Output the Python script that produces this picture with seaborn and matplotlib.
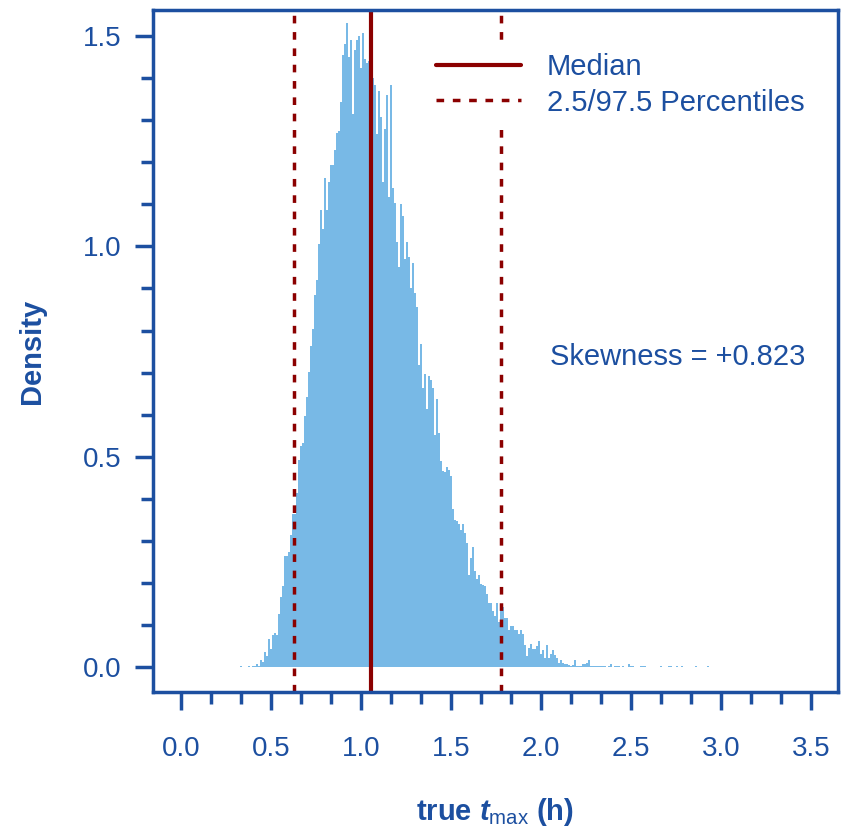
import numpy as np
import pandas as pd
import matplotlib
matplotlib.use("Agg")
import matplotlib.pyplot as plt
from matplotlib.ticker import MultipleLocator, FormatStrFormatter
import seaborn as sns

# histogram (density per bin)
bin_start = 0.33
bin_width = 0.01109
density = [
    0.003, 0.0, 0.0, 0.0, 0.003, 0.0, 0.003, 0.003, 0.007, 0.003,
    0.017, 0.012, 0.036, 0.026, 0.067, 0.043, 0.076, 0.081, 0.076, 0.126,
    0.166, 0.193, 0.264, 0.264, 0.273, 0.314, 0.364, 0.364, 0.414, 0.492,
    0.525, 0.532, 0.597, 0.642, 0.701, 0.763, 0.803, 0.884, 0.920, 1.005,
    1.086, 1.041, 1.162, 1.086, 1.153, 1.193, 1.193, 1.229, 1.269, 1.274,
    1.343, 1.455, 1.481, 1.531, 1.450, 1.490, 1.314, 1.467, 1.490, 1.500,
    1.424, 1.507, 1.445, 1.436, 1.440, 1.420, 1.400, 1.383, 1.267, 1.369,
    1.307, 1.153, 1.279, 1.360, 1.117, 1.383, 1.139, 1.103, 1.010, 0.951,
    1.100, 1.072, 0.970, 1.010, 0.975, 0.901, 0.960, 0.889, 0.856, 0.718,
    0.768, 0.663, 0.696, 0.613, 0.692, 0.682, 0.663, 0.551, 0.637, 0.556,
    0.490, 0.466, 0.464, 0.475, 0.468, 0.454, 0.376, 0.349, 0.347, 0.340,
    0.326, 0.340, 0.319, 0.295, 0.219, 0.259, 0.285, 0.228, 0.209, 0.219,
    0.197, 0.195, 0.193, 0.174, 0.152, 0.152, 0.133, 0.121, 0.152, 0.107,
    0.135, 0.143, 0.116, 0.116, 0.088, 0.097, 0.097, 0.088, 0.088, 0.078,
    0.088, 0.078, 0.052, 0.026, 0.045, 0.055, 0.043, 0.043, 0.050, 0.062,
    0.031, 0.040, 0.021, 0.052, 0.021, 0.031, 0.040, 0.029, 0.021, 0.010,
    0.017, 0.010, 0.007, 0.007, 0.005, 0.003, 0.005, 0.017, 0.003, 0.003,
    0.003, 0.007, 0.007, 0.010, 0.017, 0.003, 0.003, 0.003, 0.003, 0.003,
    0.003, 0.003, 0.003, 0.0, 0.003, 0.007, 0.0, 0.003, 0.003, 0.003,
    0.0, 0.003, 0.0, 0.0, 0.007, 0.003, 0.003, 0.0, 0.0, 0.0,
    0.003, 0.003, 0.003, 0.0, 0.0, 0.0, 0.0, 0.0, 0.0, 0.0,
    0.003, 0.0, 0.0, 0.0, 0.003, 0.003, 0.0, 0.0, 0.003, 0.0,
    0.0, 0.003, 0.0, 0.0, 0.0, 0.0, 0.0, 0.0, 0.003, 0.0,
    0.0, 0.0, 0.0, 0.0, 0.003,
]
median = 1.056
pct_low = 0.626
pct_high = 1.777
skewness = 0.823

blue = "#1c4fa0"
bar_col = "#78b9e6"
red = "#8b0000"

sns.set_style("ticks")
plt.rcParams['font.family'] = ['Liberation Sans', 'DejaVu Sans']
plt.rcParams['mathtext.fontset'] = 'custom'
plt.rcParams['mathtext.rm'] = 'Liberation Sans'
plt.rcParams['mathtext.it'] = 'Liberation Sans:italic:bold'

n = len(density)
centers = bin_start + bin_width * (np.arange(n) + 0.5)
df = pd.DataFrame({'x': centers, 'w': density})

fig = plt.figure(figsize=(8.43, 8.34), dpi=100)
ax = fig.add_axes([0.1815, 0.1703, 0.8125, 0.8177])

sns.histplot(data=df, x='x', weights='w', bins=n,
             binrange=(bin_start, bin_start + n * bin_width), stat='count',
             element='step', fill=True, color=bar_col, alpha=1, linewidth=0, ax=ax)

ax.axvline(median, color=red, lw=3.0, label='Median')
ax.axvline(pct_low, color=red, lw=2.5, ls=(0, (2.2, 2.5)), label='2.5/97.5 Percentiles')
ax.axvline(pct_high, color=red, lw=2.5, ls=(0, (2.2, 2.5)))

ax.set_xlim(-0.155, 3.65)
ax.set_ylim(-0.0594, 1.562)
ax.xaxis.set_major_locator(MultipleLocator(0.5))
ax.xaxis.set_minor_locator(MultipleLocator(0.5 / 3))
ax.yaxis.set_major_locator(MultipleLocator(0.5))
ax.yaxis.set_minor_locator(MultipleLocator(0.1))
ax.xaxis.set_major_formatter(FormatStrFormatter('%.1f'))
ax.yaxis.set_major_formatter(FormatStrFormatter('%.1f'))

for s in ax.spines.values():
    s.set_visible(True)
    s.set_color(blue)
    s.set_linewidth(2.5)

ax.tick_params(which='both', direction='out', color=blue, width=2.5,
               labelcolor=blue, labelsize=20)
ax.tick_params(which='major', length=13)
ax.tick_params(which='minor', length=8.5)
ax.tick_params(axis='x', which='major', pad=19)
ax.tick_params(axis='y', which='major', pad=10)

ax.set_xlabel(r'true $t_{\rm max}$ (h)', fontsize=21, fontweight='bold', color=blue, labelpad=24)
ax.set_ylabel('Density', fontsize=21, fontweight='bold', color=blue, labelpad=26)

leg = ax.legend(loc='upper left', bbox_to_anchor=(0.375, 0.975), fontsize=21,
                frameon=True, fancybox=False, framealpha=1, facecolor='white',
                edgecolor='none', handlelength=2.9, handletextpad=0.9,
                labelspacing=0.25, borderpad=0.4)
for t in leg.get_texts():
    t.set_color(blue)

ax.text(2.05, 0.737, f'Skewness = {skewness:+.3f}', fontsize=21, color=blue,
        ha='left', va='center')

fig.savefig('out.png', dpi=100)
